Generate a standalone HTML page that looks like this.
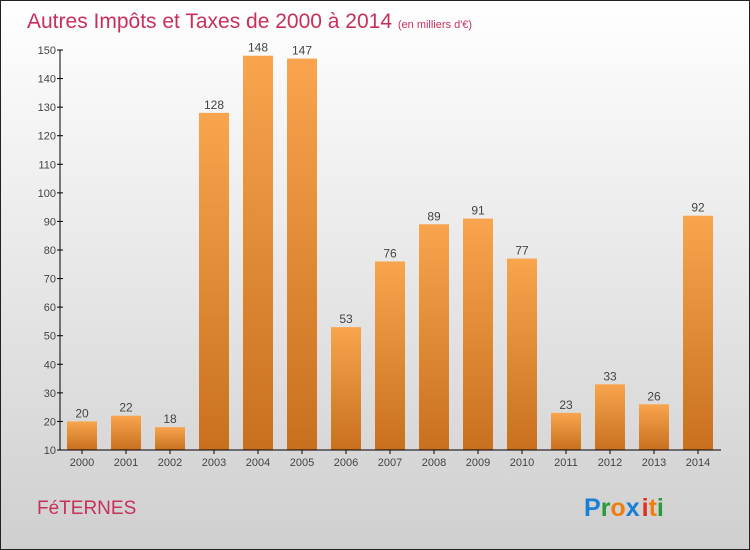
<!DOCTYPE html>
<html><head><meta charset="utf-8"><style>
body{margin:0}
#c{width:750px;height:550px;position:relative;overflow:hidden;font-family:"Liberation Sans",sans-serif}
</style></head><body>
<div id="c">
<svg id="s" width="750" height="550" xmlns="http://www.w3.org/2000/svg">
<defs>
<linearGradient id="bg" x1="0" y1="0" x2="0" y2="1"><stop offset="0" stop-color="#ffffff"/><stop offset="1" stop-color="#cfcfcf"/></linearGradient>
<linearGradient id="bar" x1="0" y1="0" x2="0" y2="1"><stop offset="0" stop-color="#f8a54e"/><stop offset="1" stop-color="#c8701e"/></linearGradient>
</defs>
<rect x="0.5" y="0.5" width="749" height="549" fill="url(#bg)" stroke="#222" stroke-width="1"/>
<text x="27" y="28" font-size="21" fill="#c8305a">Autres Impôts et Taxes de 2000 à 2014 <tspan font-size="11">(en milliers d'€)</tspan></text>
<g id="plot"></g>
<text x="37" y="514" font-size="19" fill="#c8305a">FéTERNES</text>
<text x="584" y="516" font-size="25" font-weight="bold"><tspan fill="#1a7fd4">P</tspan><tspan fill="#2a9a3a">r</tspan><tspan fill="#f07d10">o</tspan><tspan fill="#1a7fd4">x</tspan><tspan fill="#e03020" dx="2">i</tspan><tspan fill="#f07d10">t</tspan><tspan fill="#2a9a3a">i</tspan></text>
</svg></div>
<script>
const categories=["2000","2001","2002","2003","2004","2005","2006","2007","2008","2009","2010","2011","2012","2013","2014"];
const values=[20,22,18,128,148,147,53,76,89,91,77,23,33,26,92];
const yTicks=[10,20,30,40,50,60,70,80,90,100,110,120,130,140,150];
const NS="http://www.w3.org/2000/svg";
const g=document.getElementById('plot');
const y=v=>450-(v-10)*400/140;
const x=i=>82+i*44;
function mk(t,a,txt){const e=document.createElementNS(NS,t);for(const k in a)e.setAttribute(k,a[k]);if(txt!=null)e.textContent=txt;g.appendChild(e);return e;}
yTicks.forEach(t=>{
 const l=mk('line',{x1:57,x2:63,y1:y(t),y2:y(t),stroke:'#000'});
 
 
 const tx=mk('text',{x:56,y:y(t)+4,'text-anchor':'end','font-size':11,fill:'#444'},t);
 
 
});
categories.forEach((c,i)=>{
 const v=values[i];
 const r=mk('rect',{x:x(i)-15,y:y(v),width:30,height:450-y(v),fill:'url(#bar)'});
 
 
 const vl=mk('text',{x:x(i),y:y(v)-4,'text-anchor':'middle','font-size':12,fill:'#444'},v);
 
 
 const tk=mk('line',{x1:x(i),x2:x(i),y1:450,y2:454,stroke:'#000'});
 
 
 const xl=mk('text',{x:x(i),y:466,'text-anchor':'middle','font-size':11,fill:'#444'},c);
 
 
});
const ya=mk('line',{x1:60,x2:60,y1:50,y2:450,stroke:'#000'});


const xa=mk('line',{x1:60,x2:721,y1:450,y2:450,stroke:'#000'});


</script>
</body></html>
